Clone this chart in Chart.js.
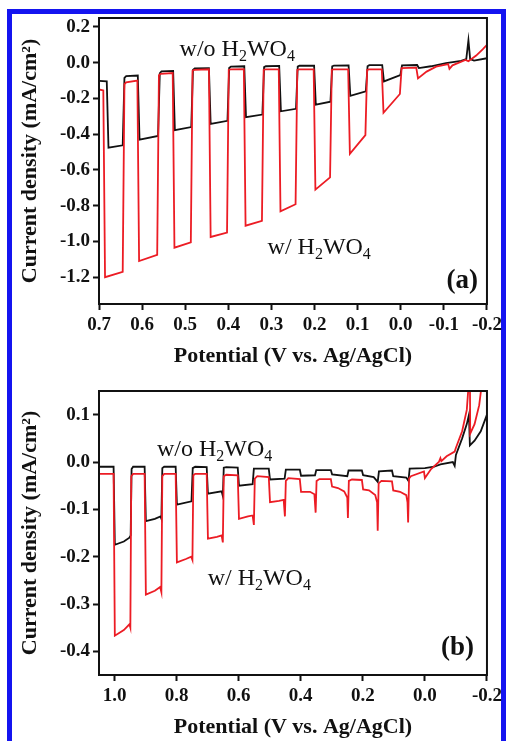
<!DOCTYPE html>
<html>
<head>
<meta charset="utf-8">
<script src="https://cdn.jsdelivr.net/npm/chart.js@4.4.0/dist/chart.umd.min.js"></script>
<style>
  html, body { margin: 0; padding: 0; background: #fff; overflow: hidden; }
  body { width: 506px; height: 741px; position: relative; }
  #frame { position: absolute; left: 7px; top: 9px; width: 489px; height: 760px; border: 5px solid #1414f0; border-bottom: none; }
  canvas { position: absolute; left: 0; }
  #chartA { top: 0; }
  #chartB { top: 370px; }
</style>
</head>
<body>
<div id="frame"></div>
<canvas id="chartA" width="506" height="370"></canvas>
<canvas id="chartB" width="506" height="371"></canvas>
<script>
// panel (a): potential (V) and current density (mA/cm2), chopped light
const aBlackV = [0.700, 0.682, 0.678, 0.645, 0.641, 0.637, 0.610, 0.606, 0.563, 0.559, 0.555, 0.528, 0.524, 0.486, 0.482, 0.478,
  0.445, 0.441, 0.402, 0.398, 0.394, 0.363, 0.359, 0.321, 0.317, 0.313, 0.282, 0.278, 0.243, 0.239, 0.235, 0.201, 0.197,
  0.163, 0.159, 0.155, 0.121, 0.117, 0.081, 0.077, 0.073, 0.043, 0.039, 0.001, -0.003, -0.038, -0.042, -0.070, -0.105,
  -0.140, -0.152, -0.157, -0.161, -0.170, -0.200];
const aBlackJ = [-0.102, -0.105, -0.475, -0.462, -0.085, -0.075, -0.072, -0.430, -0.410, -0.060, -0.048, -0.046, -0.378, -0.360, -0.040, -0.032,
  -0.030, -0.342, -0.325, -0.030, -0.022, -0.020, -0.305, -0.290, -0.025, -0.020, -0.018, -0.272, -0.258, -0.022, -0.017, -0.016, -0.235,
  -0.218, -0.020, -0.016, -0.015, -0.185, -0.160, -0.020, -0.014, -0.014, -0.105, -0.070, -0.015, -0.013, -0.030, -0.020, -0.002,
  0.010, 0.020, 0.125, 0.020, 0.012, 0.025];
const aRedV = [0.700, 0.690, 0.686, 0.645, 0.641, 0.637, 0.611, 0.607, 0.565, 0.561, 0.557, 0.529, 0.525, 0.487, 0.483, 0.479,
  0.445, 0.441, 0.403, 0.399, 0.395, 0.364, 0.360, 0.322, 0.318, 0.314, 0.283, 0.279, 0.244, 0.240, 0.236, 0.202, 0.198,
  0.164, 0.160, 0.156, 0.122, 0.118, 0.082, 0.078, 0.074, 0.044, 0.040, 0.002, -0.002, -0.036, -0.040, -0.060, -0.082,
  -0.110, -0.113, -0.120, -0.150, -0.157, -0.175, -0.190, -0.200];
const aRedJ = [-0.150, -0.155, -1.200, -1.170, -0.120, -0.110, -0.100, -1.110, -1.075, -0.070, -0.062, -0.058, -1.035, -1.005, -0.045, -0.040,
  -0.037, -0.975, -0.950, -0.040, -0.037, -0.036, -0.912, -0.885, -0.040, -0.037, -0.037, -0.832, -0.792, -0.040, -0.037, -0.037, -0.710,
  -0.642, -0.040, -0.037, -0.037, -0.510, -0.405, -0.040, -0.037, -0.037, -0.280, -0.175, -0.030, -0.028, -0.088, -0.050, -0.022,
  -0.008, -0.035, -0.015, 0.015, 0.008, 0.040, 0.075, 0.100];

// panel (b)
const bBlackV = [1.050, 1.003, 0.999, 0.970, 0.952, 0.948, 0.945, 0.940, 0.903, 0.899, 0.870, 0.852, 0.849, 0.846, 0.840, 0.803, 0.799,
  0.752, 0.748, 0.740, 0.703, 0.699, 0.655, 0.651, 0.648, 0.640, 0.603, 0.599, 0.555, 0.551, 0.503, 0.499, 0.452, 0.448,
  0.403, 0.399, 0.354, 0.350, 0.303, 0.299, 0.250, 0.246, 0.203, 0.199, 0.165, 0.152, 0.148, 0.106, 0.102, 0.060, 0.053,
  0.049, 0.000, -0.030, -0.050, -0.090, -0.096, -0.100, -0.120, -0.135, -0.142, -0.145, -0.160, -0.180, -0.200];
const bBlackJ = [-0.010, -0.010, -0.175, -0.168, -0.160, -0.155, -0.015, -0.010, -0.010, -0.125, -0.120, -0.115, -0.120, -0.013, -0.010, -0.010, -0.090,
  -0.083, -0.013, -0.010, -0.011, -0.067, -0.062, -0.072, -0.012, -0.011, -0.012, -0.050, -0.047, -0.014, -0.014, -0.037, -0.035, -0.016,
  -0.016, -0.029, -0.028, -0.017, -0.017, -0.026, -0.030, -0.018, -0.018, -0.028, -0.032, -0.042, -0.020, -0.018, -0.030, -0.033, -0.040,
  -0.014, -0.013, -0.010, -0.005, 0.000, -0.008, 0.015, 0.050, 0.080, 0.100, 0.035, 0.045, 0.065, 0.100];
const bRedV = [1.050, 1.003, 0.999, 0.970, 0.952, 0.949, 0.946, 0.940, 0.903, 0.899, 0.870, 0.853, 0.849, 0.846, 0.840, 0.803, 0.799,
  0.770, 0.753, 0.749, 0.746, 0.740, 0.703, 0.699, 0.670, 0.655, 0.651, 0.648, 0.640, 0.603, 0.599, 0.570, 0.555, 0.551,
  0.548, 0.540, 0.503, 0.499, 0.470, 0.455, 0.451, 0.448, 0.440, 0.403, 0.399, 0.370, 0.356, 0.352, 0.349, 0.340, 0.303,
  0.299, 0.280, 0.260, 0.250, 0.248, 0.245, 0.235, 0.203, 0.199, 0.180, 0.160, 0.154, 0.152, 0.149, 0.140, 0.106, 0.102,
  0.080, 0.060, 0.056, 0.054, 0.051, 0.045, 0.003, 0.000, -0.020, -0.045, -0.050, -0.053, -0.070, -0.096, -0.100, -0.120,
  -0.135, -0.145, -0.146, -0.160, -0.175, -0.190];
const bRedJ = [-0.025, -0.025, -0.367, -0.355, -0.343, -0.350, -0.030, -0.025, -0.025, -0.280, -0.272, -0.264, -0.275, -0.030, -0.025, -0.025, -0.212,
  -0.205, -0.200, -0.207, -0.028, -0.025, -0.025, -0.162, -0.158, -0.155, -0.170, -0.030, -0.027, -0.028, -0.120, -0.115, -0.113, -0.133,
  -0.035, -0.030, -0.032, -0.085, -0.082, -0.080, -0.115, -0.040, -0.034, -0.036, -0.063, -0.063, -0.068, -0.107, -0.040, -0.036, -0.036,
  -0.052, -0.055, -0.062, -0.075, -0.118, -0.040, -0.037, -0.038, -0.058, -0.060, -0.070, -0.085, -0.145, -0.045, -0.040, -0.041, -0.060,
  -0.063, -0.070, -0.085, -0.128, -0.035, -0.030, -0.020, -0.034, -0.015, 0.000, 0.008, 0.002, 0.012, 0.022, 0.030, 0.065,
  0.110, 0.200, 0.060, 0.080, 0.120, 0.200];

const aXTicks = [0.7, 0.6, 0.5, 0.4, 0.3, 0.2, 0.1, 0.0, -0.1, -0.2];
const aYTicks = [0.2, 0.0, -0.2, -0.4, -0.6, -0.8, -1.0, -1.2];
const bXTicks = [1.0, 0.8, 0.6, 0.4, 0.2, 0.0, -0.2];
const bYTicks = [0.1, 0.0, -0.1, -0.2, -0.3, -0.4];

const ink = '#111';
const red = '#ec1c24';
const serif = 'Liberation Serif';

const toPoints = (xs, ys) => xs.map((v, i) => ({ x: v, y: ys[i] }));

// closed frame around the plot area
const boxPlugin = {
    id: 'box',
    afterDraw(chart) {
        const { ctx, chartArea: a } = chart;
        ctx.save();
        ctx.strokeStyle = ink;
        ctx.lineWidth = 2;
        ctx.strokeRect(a.left, a.top, a.right - a.left, a.bottom - a.top);
        ctx.restore();
    }
};

// labels with subscripts, placed in data units
const notesPlugin = {
    id: 'notes',
    afterDatasetsDraw(chart, args, opts) {
        const { ctx, scales: { x, y } } = chart;
        ctx.save();
        ctx.fillStyle = ink;
        ctx.textBaseline = 'alphabetic';
        (opts.items || []).forEach(item => {
            let px = x.getPixelForValue(item.x);
            const py = y.getPixelForValue(item.y);
            item.parts.forEach(([txt, sub]) => {
                ctx.font = sub ? `${item.subSize}px "${serif}"` : item.font;
                ctx.fillText(txt, px, py + (sub ? 5 : 0));
                px += ctx.measureText(txt).width;
            });
        });
        ctx.restore();
    }
};

const formula = prefix => [[prefix + 'H', false], ['2', true], ['WO', false], ['4', true]];

const makeChart = (id, black, redLine, xr, yr, xTicks, yTicks, padTop, notes) => {
    const tickFont = { family: serif, size: 19, weight: 'bold' };
    const titleFont = { family: serif, size: 22, weight: 'bold' };
    return new Chart(document.getElementById(id), {
        type: 'line',
        data: {
            datasets: [
                { data: redLine, borderColor: red, borderWidth: 1.8, pointRadius: 0, tension: 0, fill: false },
                { data: black, borderColor: ink, borderWidth: 1.8, pointRadius: 0, tension: 0, fill: false }
            ]
        },
        options: {
            responsive: false,
            animation: false,
            layout: { padding: { left: 0, right: 18, top: padTop, bottom: 0 } },
            plugins: { legend: { display: false }, tooltip: { enabled: false }, notes: { items: notes } },
            scales: {
                x: {
                    type: 'linear', reverse: true, min: xr[0], max: xr[1],
                    afterBuildTicks: s => { s.ticks = xTicks.map(v => ({ value: v })); },
                    afterFit: s => { s.height = 66; },
                    grid: { drawOnChartArea: false, tickLength: 6, tickWidth: 2, tickColor: ink },
                    border: { color: ink, width: 2 },
                    ticks: { color: ink, font: tickFont, padding: 4, autoSkip: false, maxRotation: 0, callback: v => v.toFixed(1) },
                    title: { display: true, text: 'Potential (V vs. Ag/AgCl)', color: ink, font: titleFont, padding: { top: 0, bottom: 0 } }
                },
                y: {
                    type: 'linear', min: yr[0], max: yr[1],
                    afterBuildTicks: s => { s.ticks = yTicks.map(v => ({ value: v })); },
                    afterFit: s => { s.width = 99; },
                    grid: { drawOnChartArea: false, tickLength: 6, tickWidth: 2, tickColor: ink },
                    border: { color: ink, width: 2 },
                    ticks: { color: ink, font: tickFont, padding: 3, autoSkip: false, callback: v => v.toFixed(1) },
                    title: { display: true, text: 'Current density (mA/cm²)', color: ink, font: titleFont, padding: { top: 17, bottom: 0 } }
                }
            }
        },
        plugins: [boxPlugin, notesPlugin]
    });
};

const textFont = `24px "${serif}"`;
const tagFont = `bold 27px "${serif}"`;

makeChart('chartA', toPoints(aBlackV, aBlackJ), toPoints(aRedV, aRedJ), [-0.2, 0.7], [-1.35, 0.25], aXTicks, aYTicks, 18, [
    { x: 0.513, y: 0.035, parts: formula('w/o '), font: textFont, subSize: 16 },
    { x: 0.309, y: -1.068, parts: formula('w/ '), font: textFont, subSize: 16 },
    { x: -0.106, y: -1.259, parts: [['(a)', false]], font: tagFont, subSize: 16 }
]);

makeChart('chartB', toPoints(bBlackV, bBlackJ), toPoints(bRedV, bRedJ), [-0.2, 1.05], [-0.45, 0.15], bXTicks, bYTicks, 21, [
    { x: 0.863, y: 0.0126, parts: formula('w/o '), font: textFont, subSize: 16 },
    { x: 0.700, y: -0.26, parts: formula('w/ '), font: textFont, subSize: 16 },
    { x: -0.052, y: -0.408, parts: [['(b)', false]], font: tagFont, subSize: 16 }
]);
</script>
</body>
</html>
